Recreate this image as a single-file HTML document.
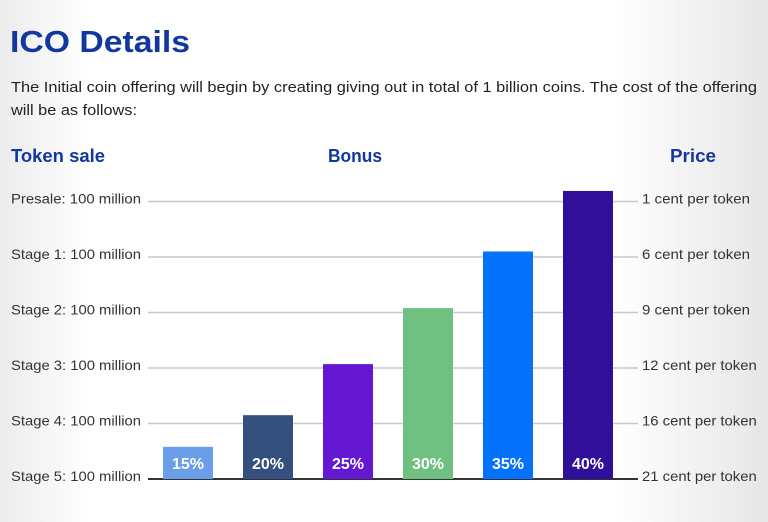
<!DOCTYPE html>
<html><head><meta charset="utf-8"><style>
html,body{margin:0;padding:0}
body{width:768px;height:522px;overflow:hidden;background:linear-gradient(90deg,#ececec 0,#fff 12%,#fff 80%,#e6e6e6 100%);font-family:"Liberation Sans",sans-serif}
svg{display:block}
</style></head><body>
<svg id="chart" width="768" height="522" xmlns="http://www.w3.org/2000/svg" font-family="Liberation Sans, sans-serif">
<text x="10" y="52" font-size="31" font-weight="bold" fill="#1237a0" textLength="180" lengthAdjust="spacingAndGlyphs">ICO Details</text>
<text x="11" y="92" font-size="15" fill="#222" textLength="746" lengthAdjust="spacingAndGlyphs">The Initial coin offering will begin by creating giving out in total of 1 billion coins. The cost of the offering</text>
<text x="11" y="115" font-size="15" fill="#222" textLength="126" lengthAdjust="spacingAndGlyphs">will be as follows:</text>
<text x="11" y="162" font-size="18" font-weight="bold" fill="#1237a0" textLength="94" lengthAdjust="spacingAndGlyphs">Token sale</text>
<text x="328" y="162" font-size="18" font-weight="bold" fill="#1237a0" textLength="54" lengthAdjust="spacingAndGlyphs">Bonus</text>
<text x="670" y="162" font-size="18" font-weight="bold" fill="#1237a0" textLength="46" lengthAdjust="spacingAndGlyphs">Price</text>
<g id="grid"></g><g id="bars"></g><g id="labels"></g>
</svg>
<script>
const categories=["15%","20%","25%","30%","35%","40%"];
const bonusValues=[0.58,1.15,2.07,3.08,4.1,5.19];
const saleLabels=["Presale: 100 million","Stage 1: 100 million","Stage 2: 100 million","Stage 3: 100 million","Stage 4: 100 million","Stage 5: 100 million"];
const priceLabels=["1 cent per token","6 cent per token","9 cent per token","12 cent per token","16 cent per token","21 cent per token"];
const colors=["#6a9ee8","#33507e","#6418d2","#6fc182","#0572fb","#300f9a"];
const NS="http://www.w3.org/2000/svg";
const y=v=>479-v*55.5;
const x=i=>163+i*80;
const grid=document.getElementById('grid'),bars=document.getElementById('bars'),labels=document.getElementById('labels');
function mk(tag,attrs,parent){const e=document.createElementNS(NS,tag);for(const k in attrs)e.setAttribute(k,attrs[k]);parent.appendChild(e);return e;}
for(let k=0;k<6;k++){
  const gy=y(5-k);
  const ln=mk('line',{x1:148,x2:638,y1:gy,y2:gy,stroke:k===5?'#333':'#c8c8c8','stroke-width':k===5?2:1.5},grid);
  
  
  const t=mk('text',{x:11,y:gy+2,'font-size':14,fill:'#333',textLength:130,lengthAdjust:'spacingAndGlyphs'},labels);
  t.textContent=saleLabels[k];
  
  
  const p=mk('text',{x:642,y:gy+2,'font-size':14,fill:'#333',textLength:priceLabels[k].length*6.75,lengthAdjust:'spacingAndGlyphs'},labels);
  p.textContent=priceLabels[k];
  
  
}
categories.forEach((c,i)=>{
  const top=y(bonusValues[i]);
  const r=mk('rect',{x:x(i),y:top,width:50,height:479-top,fill:colors[i]},bars);
  
  
  const t=mk('text',{x:x(i)+25,y:469,'font-size':16,'font-weight':'bold',fill:'#fff','text-anchor':'middle'},bars);
  t.textContent=c;
  
  
});
</script>
</body></html>
